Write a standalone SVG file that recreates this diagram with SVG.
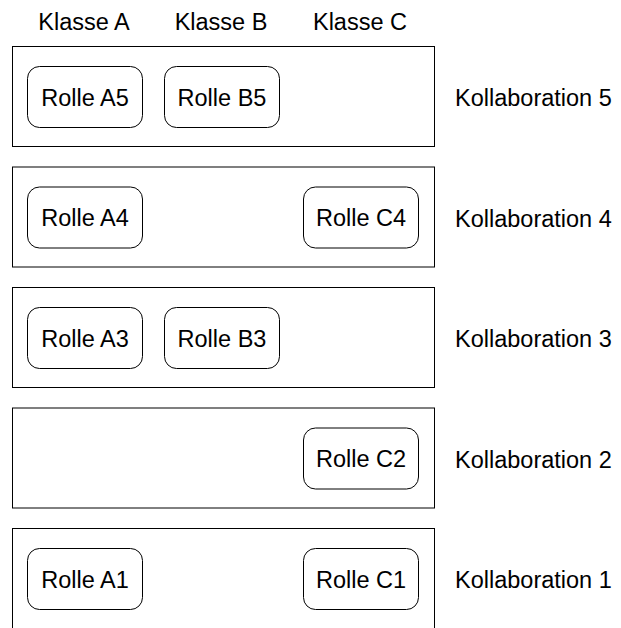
<svg xmlns="http://www.w3.org/2000/svg" width="621" height="628" viewBox="0 0 621 628">
  <style>
    .lane { fill: #ffffff; stroke: #000000; stroke-width: 1; }
    .role { fill: #ffffff; stroke: #000000; stroke-width: 1; }
    text { font-family: "Liberation Sans", Arial, sans-serif; font-size: 23.5px; fill: #000000; }
    .mid { text-anchor: middle; }
  </style>
  <rect width="621" height="628" fill="#ffffff"/>

  <!-- class headers -->
  <g id="headers">
    <text class="mid" x="84" y="29.5">Klasse A</text>
    <text class="mid" x="221" y="29.5">Klasse B</text>
    <text class="mid" x="360" y="29.5">Klasse C</text>
  </g>

  <!-- collaboration 5 -->
  <g id="kollaboration5">
    <rect class="lane" x="12.5" y="46.5" width="422" height="100"/>
    <text x="455" y="106">Kollaboration 5</text>
  </g>
  <g id="rolleA5">
    <rect class="role" x="27.5" y="66.5" width="115" height="61" rx="12"/>
    <text class="mid" x="85" y="105.5">Rolle A5</text>
  </g>
  <g id="rolleB5">
    <rect class="role" x="164.5" y="66.5" width="115" height="61" rx="12"/>
    <text class="mid" x="222" y="105.5">Rolle B5</text>
  </g>

  <!-- collaboration 4 -->
  <g id="kollaboration4">
    <rect class="lane" x="12.5" y="167" width="422" height="100"/>
    <text x="455" y="226.5">Kollaboration 4</text>
  </g>
  <g id="rolleA4">
    <rect class="role" x="27.5" y="187" width="115" height="61" rx="12"/>
    <text class="mid" x="85" y="226">Rolle A4</text>
  </g>
  <g id="rolleC4">
    <rect class="role" x="303.5" y="187" width="115" height="61" rx="12"/>
    <text class="mid" x="361" y="226">Rolle C4</text>
  </g>

  <!-- collaboration 3 -->
  <g id="kollaboration3">
    <rect class="lane" x="12.5" y="287.5" width="422" height="100"/>
    <text x="455" y="347">Kollaboration 3</text>
  </g>
  <g id="rolleA3">
    <rect class="role" x="27.5" y="307.5" width="115" height="61" rx="12"/>
    <text class="mid" x="85" y="346.5">Rolle A3</text>
  </g>
  <g id="rolleB3">
    <rect class="role" x="164.5" y="307.5" width="115" height="61" rx="12"/>
    <text class="mid" x="222" y="346.5">Rolle B3</text>
  </g>

  <!-- collaboration 2 -->
  <g id="kollaboration2">
    <rect class="lane" x="12.5" y="408" width="422" height="100"/>
    <text x="455" y="467.5">Kollaboration 2</text>
  </g>
  <g id="rolleC2">
    <rect class="role" x="303.5" y="428" width="115" height="61" rx="12"/>
    <text class="mid" x="361" y="467">Rolle C2</text>
  </g>

  <!-- collaboration 1 -->
  <g id="kollaboration1">
    <rect class="lane" x="12.5" y="528.5" width="422" height="100"/>
    <text x="455" y="588">Kollaboration 1</text>
  </g>
  <g id="rolleA1">
    <rect class="role" x="27.5" y="548.5" width="115" height="61" rx="12"/>
    <text class="mid" x="85" y="587.5">Rolle A1</text>
  </g>
  <g id="rolleC1">
    <rect class="role" x="303.5" y="548.5" width="115" height="61" rx="12"/>
    <text class="mid" x="361" y="587.5">Rolle C1</text>
  </g>

  <g id="connectors"/>
</svg>
